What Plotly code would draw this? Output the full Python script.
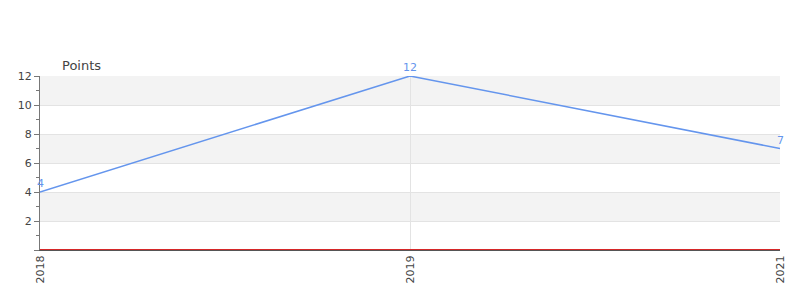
import plotly.graph_objects as go

years = ["2018", "2019", "2021"]
points = [4, 12, 7]
y_ticks = [0, 2, 4, 6, 8, 10, 12]
y_tick_text = ["", "2", "4", "6", "8", "10", "12"]
y_minor = [1, 3, 5, 7, 9, 11]
bands = [(2, 4), (6, 8), (10, 12)]

fig = go.Figure()
fig.add_trace(go.Scatter(
    x=years, y=points, mode="lines",
    line=dict(color="#6495ED", width=1.5),
    cliponaxis=False, hoverinfo="x+y",
))

shapes = []
for lo, hi in bands:
    shapes.append(dict(type="rect", xref="paper", yref="y", x0=0, x1=1, y0=lo, y1=hi,
                       fillcolor="#f3f3f3", line=dict(width=0), layer="below"))
shapes.append(dict(type="line", xref="paper", yref="y", x0=0, x1=1,
                   ysizemode="pixel", yanchor=0, y0=0.5, y1=0.5,
                   line=dict(color="#d62728", width=1), layer="above"))

annotations = [dict(text="Points", xref="paper", yref="paper", x=0.0297, y=1.0,
                    xanchor="left", yanchor="bottom", yshift=1, xshift=-2, showarrow=False,
                    font=dict(size=13, color="#444", family="DejaVu Sans"))]
for i, yv in enumerate(points):
    annotations.append(dict(text=str(yv), x=i, y=yv, xref="x", yref="y",
                            xanchor="center", yanchor="bottom", yshift=0, showarrow=False,
                            font=dict(size=11, color="#6495ED", family="DejaVu Sans")))

fig.update_layout(
    width=800, height=300,
    margin=dict(l=40, r=20, t=76, b=50),
    paper_bgcolor="white", plot_bgcolor="white",
    font=dict(family="DejaVu Sans", size=11, color="#444"),
    showlegend=False,
    shapes=shapes,
    annotations=annotations,
    xaxis=dict(type="category", range=[0, 2], tickangle=-90,
               showgrid=True, gridcolor="#e3e3e3", gridwidth=1,
               showline=True, linecolor="#555", linewidth=1,
               ticks="", tickfont=dict(size=11, color="#444")),
    yaxis=dict(range=[0, 12], tickvals=y_ticks, ticktext=y_tick_text,
               showgrid=True, gridcolor="#e3e3e3", gridwidth=1,
               zeroline=False,
               showline=True, linecolor="#777", linewidth=1,
               ticks="outside", ticklen=5, tickcolor="#777",
               minor=dict(tickvals=y_minor, ticks="outside", ticklen=3, tickcolor="#777", showgrid=False),
               tickfont=dict(size=11, color="#444")),
)

fig.write_html("out.html")
